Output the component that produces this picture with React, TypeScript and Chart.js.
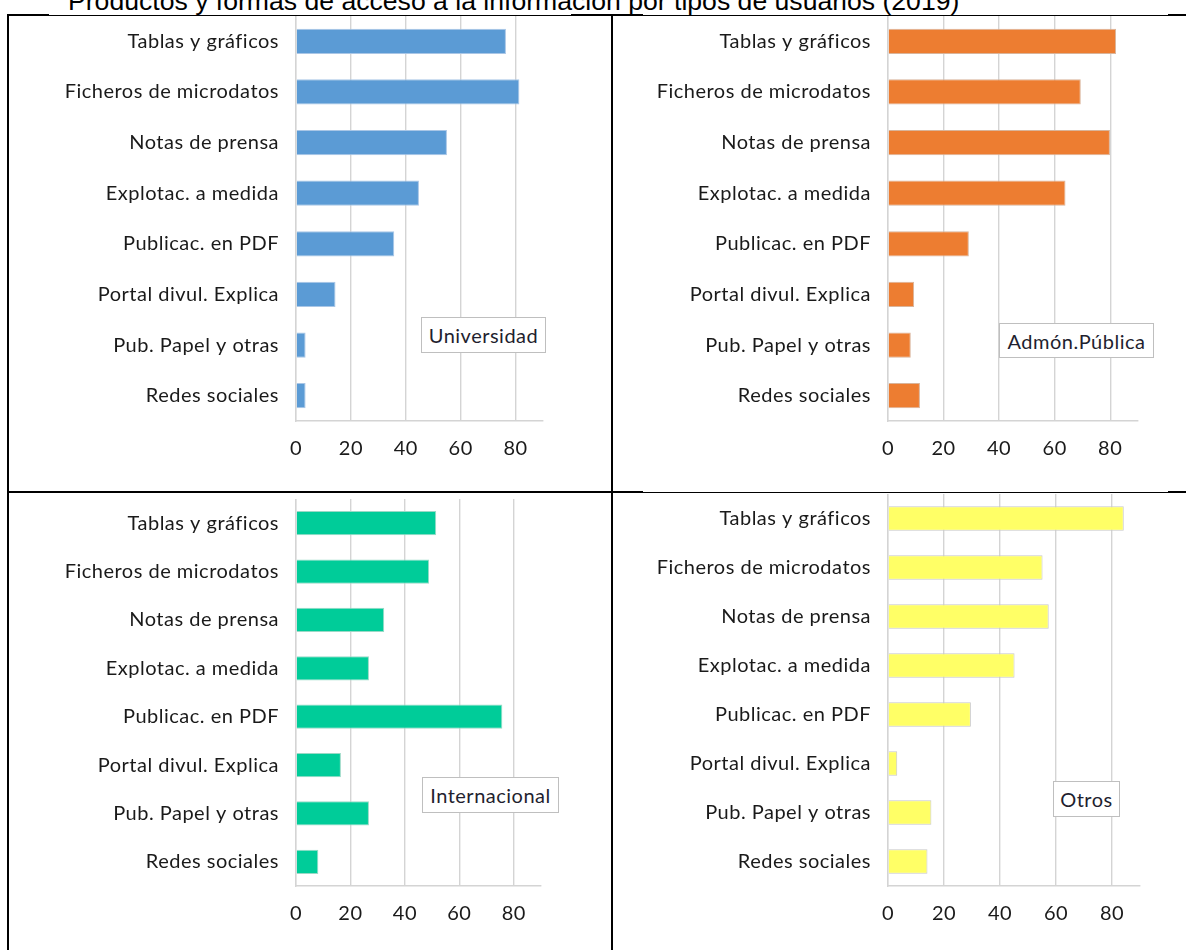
import React, { useEffect, useRef } from "react";
import { Chart, registerables } from "chart.js";

Chart.register(...registerables);

// ---------- data ----------
const categories = [
  "Tablas y gráficos",
  "Ficheros de microdatos",
  "Notas de prensa",
  "Explotac. a medida",
  "Publicac. en PDF",
  "Portal divul. Explica",
  "Pub. Papel y otras",
  "Redes sociales",
];
const universidad = [76.5, 81.4, 55, 44.8, 35.8, 14.4, 3.5, 3.5];
const admonPublica = [82.1, 69.4, 79.9, 63.9, 29.1, 9.4, 8.2, 11.5];
const internacional = [51.5, 48.9, 32.4, 26.8, 75.8, 16.5, 26.8, 8.2];
const otros = [84.2, 55.2, 57.4, 45.2, 29.6, 3.3, 15.5, 14.1];
const xTickValues = [0, 20, 40, 60, 80];
const axisMax = 90;
const titleText =
  "Productos y formas de acceso a la información por tipos de usuarios (2019)";

// ---------- style ----------
const FONT_FAMILY = "Lato, 'Open Sans', sans-serif";
const FONT_SIZE = 20;
const LETTER = "0.5px";
const TEXT_COLOR = "#1a1a1a";
const GRID = "#d4d4d4";

type Rect = { x: number; y: number; w: number; h: number };
type Area = { left: number; right: number; bottom: number };

function BarPanel(props: {
  values: number[];
  color: string;
  borderColor: string;
  box: Rect;
  area: Area;
}) {
  const { values, color, borderColor, box, area } = props;
  const ref = useRef<HTMLCanvasElement>(null);
  useEffect(() => {
    const canvas = ref.current as HTMLCanvasElement;
    const spacing = {
      id: "letterSpacing",
      beforeUpdate(c: any) {
        c.ctx.letterSpacing = LETTER;
      },
      beforeDraw(c: any) {
        c.ctx.letterSpacing = LETTER;
      },
    };
    const font = { family: FONT_FAMILY, size: FONT_SIZE };
    const chart = new Chart(canvas, {
      type: "bar",
      data: {
        labels: categories,
        datasets: [
          {
            data: values,
            backgroundColor: color,
            borderColor,
            borderWidth: 1,
            barPercentage: 0.5,
            categoryPercentage: 1,
          },
        ],
      },
      options: {
        indexAxis: "y",
        animation: false,
        responsive: false,
        devicePixelRatio: 1,
        layout: {
          padding: {
            left: 0,
            top: 0,
            right: box.w - (area.right - box.x),
            bottom: 0,
          },
        },
        plugins: {
          legend: { display: false },
          tooltip: { enabled: false },
          title: { display: false },
        },
        scales: {
          x: {
            type: "linear",
            min: 0,
            max: axisMax,
            grid: { color: GRID, lineWidth: 1.4, drawTicks: false },
            border: { display: true, color: GRID, width: 1.4 },
            ticks: { font, color: TEXT_COLOR, padding: 16 },
            afterBuildTicks: (s: any) => {
              s.ticks = xTickValues.map((v) => ({ value: v }));
            },
            afterFit: (s: any) => {
              s.height = box.y + box.h - area.bottom;
              s.paddingLeft = 0;
              s.paddingRight = 0;
            },
          },
          y: {
            grid: { display: false, drawTicks: false },
            border: { display: true, color: GRID, width: 1.4 },
            ticks: { font, color: TEXT_COLOR, padding: 17 },
            afterFit: (s: any) => {
              s.width = area.left - box.x;
              s.paddingTop = 0;
              s.paddingBottom = 0;
            },
          },
        },
      },
      plugins: [spacing],
    });
    return () => chart.destroy();
  }, []);
  return (
    <canvas
      ref={ref}
      width={box.w}
      height={box.h}
      style={{
        position: "absolute",
        left: box.x,
        top: box.y,
        width: box.w,
        height: box.h,
      }}
    />
  );
}

function Tag(props: { text: string; x: number; y: number; w: number; h: number }) {
  return (
    <div
      style={{
        position: "absolute",
        left: props.x,
        top: props.y,
        width: props.w,
        height: props.h,
        boxSizing: "border-box",
        border: "1px solid #bfbfbf",
        background: "#fff",
        fontFamily: FONT_FAMILY,
        fontSize: FONT_SIZE,
        letterSpacing: LETTER,
        color: "#1f1f2f",
        display: "flex",
        alignItems: "center",
        justifyContent: "center",
        whiteSpace: "nowrap",
      }}
    >
      {props.text}
    </div>
  );
}

const lineSegs: Rect[] = [
  // left border
  { x: 7, y: 14, w: 2, h: 940 },
  // middle vertical
  { x: 611, y: 14, w: 2, h: 940 },
  // top line
  { x: 7, y: 14, w: 42, h: 2 },
  { x: 49, y: 15, w: 522, h: 1 },
  { x: 571, y: 14, w: 72, h: 2 },
  { x: 643, y: 15, w: 525, h: 1 },
  { x: 1168, y: 14, w: 20, h: 2 },
  // middle line
  { x: 7, y: 491, w: 636, h: 2 },
  { x: 643, y: 492, w: 525, h: 1 },
  { x: 1168, y: 491, w: 20, h: 2 },
];

export default function App() {
  return (
    <div style={{ position: "absolute", left: 0, top: 0, width: 1186, height: 950, overflow: "hidden", background: "#fff" }}>
      <div
        style={{
          position: "absolute",
          left: 68,
          top: -12,
          fontFamily: "'Liberation Sans', Arial, sans-serif",
          fontSize: 26.6,
          lineHeight: "27px",
          whiteSpace: "nowrap",
          color: "#000",
        }}
      >
        {titleText}
      </div>
      {lineSegs.map((r, i) => (
        <div
          key={i}
          style={{ position: "absolute", left: r.x, top: r.y, width: r.w, height: r.h, background: "#000" }}
        />
      ))}
      <BarPanel
        values={universidad}
        color="#5b9bd5"
        borderColor="#a9c6e6"
        box={{ x: 10, y: 16, w: 598, h: 474 }}
        area={{ left: 296, right: 543, bottom: 421 }}
      />
      <BarPanel
        values={admonPublica}
        color="#ed7d31"
        borderColor="#d9b49a"
        box={{ x: 614, y: 16, w: 570, h: 474 }}
        area={{ left: 888, right: 1138, bottom: 421 }}
      />
      <BarPanel
        values={internacional}
        color="#00cc99"
        borderColor="#9ad9c6"
        box={{ x: 10, y: 499, w: 598, h: 450 }}
        area={{ left: 296, right: 541, bottom: 886 }}
      />
      <BarPanel
        values={otros}
        color="#ffff66"
        borderColor="#c8c8c8"
        box={{ x: 614, y: 494, w: 570, h: 455 }}
        area={{ left: 888, right: 1140, bottom: 886 }}
      />
      <Tag text="Universidad" x={421} y={317} w={125} h={36} />
      <Tag text="Admón.Pública" x={999} y={323} w={155} h={35} />
      <Tag text="Internacional" x={422} y={777} w={137} h={36} />
      <Tag text="Otros" x={1053} y={781} w={67} h={36} />
    </div>
  );
}
